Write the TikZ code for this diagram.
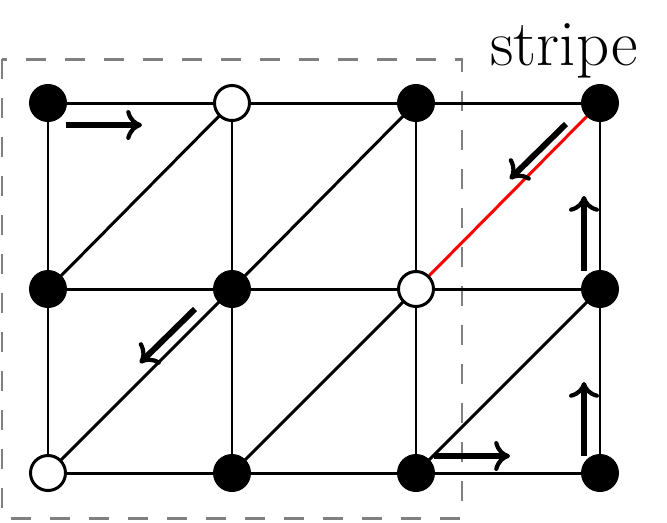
\documentclass[tikz,border=0pt]{standalone}
\usetikzlibrary{arrows.meta}
\begin{document}
\begin{tikzpicture}[x=0.02cm,y=-0.02cm,
  edge/.style={line width=1.7pt},
  full/.style={circle,draw,line width=1.7pt,fill=black,minimum size=0.7cm,inner sep=0pt},
  empty/.style={circle,draw,line width=1.7pt,fill=white,minimum size=0.7cm,inner sep=0pt},
  frame/.style={gray,line width=1.7pt,dash pattern=on 11.4pt off 10.8pt},
  mov/.style={line width=3.4pt,-{Computer Modern Rightarrow[length=9pt,width=17pt,line width=2.4pt]}}]
\useasboundingbox (0,0) rectangle (667,522);
\draw[frame] (2,59) rectangle (462,518);
\node[font=\fontsize{37}{40}\selectfont,anchor=base] (lab) at (564,65) {stripe};
% coordinates
\foreach \i/\x in {1/48,2/232,3/416,4/600}{
  \foreach \j/\y in {1/103,2/289,3/473}{
    \coordinate (p\i\j) at (\x,\y);
  }
}
% edges
\foreach \j in {1,2,3}{\draw[edge] (p1\j) -- (p4\j);}
\foreach \i in {1,2,3,4}{\draw[edge] (p\i1) -- (p\i3);}
\draw[edge] (p12) -- (p21);
\draw[edge] (p22) -- (p31);
\draw[edge,red] (p32) -- (p41);
\draw[edge] (p13) -- (p22);
\draw[edge] (p23) -- (p32);
\draw[edge] (p33) -- (p42);
% nodes
\node[full] (n11) at (p11) {};
\node[empty] (n21) at (p21) {};
\node[full] (n31) at (p31) {};
\node[full] (n41) at (p41) {};
\node[full] (n12) at (p12) {};
\node[full] (n22) at (p22) {};
\node[empty] (n32) at (p32) {};
\node[full] (n42) at (p42) {};
\node[empty] (n13) at (p13) {};
\node[full] (n23) at (p23) {};
\node[full] (n33) at (p33) {};
\node[full] (n43) at (p43) {};
% move arrows
\coordinate (a1s) at (66,125); \coordinate (a1e) at (142,125);
\draw[mov] (a1s) -- (a1e);
\coordinate (a2s) at (195,309); \coordinate (a2e) at (140,363);
\draw[mov] (a2s) -- (a2e);
\coordinate (a3s) at (566,124); \coordinate (a3e) at (510,179);
\draw[mov] (a3s) -- (a3e);
\coordinate (a4s) at (584,271); \coordinate (a4e) at (584,196);
\draw[mov] (a4s) -- (a4e);
\coordinate (a5s) at (584,456); \coordinate (a5e) at (584,382);
\draw[mov] (a5s) -- (a5e);
\coordinate (a6s) at (434,456); \coordinate (a6e) at (510,456);
\draw[mov] (a6s) -- (a6e);
\end{tikzpicture}
\end{document}
